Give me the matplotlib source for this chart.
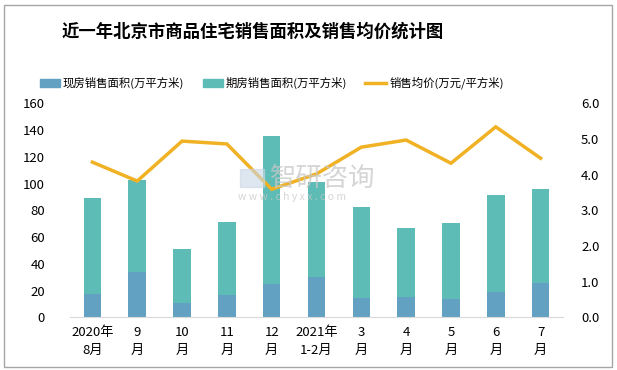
import matplotlib
matplotlib.use("Agg")
import matplotlib.pyplot as plt
from matplotlib.patches import Rectangle
import numpy as np

plt.rcParams['font.family'] = ['Noto Sans CJK SC', 'DejaVu Sans']

categories = ["2020年\n8月", "9\n月", "10\n月", "11\n月", "12\n月", "2021年\n1-2月",
              "3\n月", "4\n月", "5\n月", "6\n月", "7\n月"]
existing = [17.2, 33.9, 10.5, 16.4, 24.9, 30.1, 14.4, 15.2, 13.7, 19.0, 25.7]
total = [89.5, 102.7, 50.8, 71.0, 135.5, 101.2, 82.5, 66.8, 70.5, 91.4, 95.9]
future = [t - e for t, e in zip(total, existing)]
price = [4.35, 3.82, 4.94, 4.86, 3.59, 4.02, 4.77, 4.97, 4.32, 5.34, 4.46]

c_exist = "#62A1C2"
c_future = "#5DBCB5"
c_line = "#F0B224"

fig = plt.figure(figsize=(6.17, 3.70), dpi=100)
fig.patches.append(Rectangle((0.007, 0.008), 0.985, 0.978, transform=fig.transFigure,
                             fill=False, edgecolor="#A6A6A6", linewidth=1.0))

ax = fig.add_axes([70/617, 1-317.3/370, (563-70)/617, (317.3-103.3)/370])
x = np.arange(len(categories))
w = 0.39
ax.bar(x, existing, width=w, color=c_exist, edgecolor=c_exist, linewidth=0, zorder=2)
ax.bar(x, future, width=w, bottom=existing, color=c_future, linewidth=0, zorder=2)
ax.set_xlim(-0.5, len(categories)-0.5)
ax.set_ylim(0, 160)
ax.set_yticks(np.arange(0, 161, 20))
ax.set_xticks(x)
ax.set_xticklabels(categories, fontsize=9.5, linespacing=1.5)
for s in ['top', 'right', 'left']:
    ax.spines[s].set_visible(False)
ax.spines['bottom'].set_color("#D9D9D9")
ax.tick_params(axis='both', length=0, labelsize=9.5, colors='black')
ax.tick_params(axis='y', pad=18)
ax.tick_params(axis='x', pad=6)

ax2 = ax.twinx()
ax2.plot(x, price, color=c_line, linewidth=2.5, zorder=3, solid_joinstyle='miter')
ax2.set_ylim(0, 6.0)
ax2.set_yticks(np.arange(0, 6.01, 1.0))
ax2.set_yticklabels([f"{v:.1f}" for v in np.arange(0, 6.01, 1.0)])
for s in ['top', 'right', 'left', 'bottom']:
    ax2.spines[s].set_visible(False)
ax2.tick_params(axis='y', length=0, labelsize=9.5, pad=13)

# watermark
fig.text(270/617, 1-178/370, "智研咨询", fontsize=19, color="#C8C8C8", alpha=0.75,
         ha='left', va='center', zorder=5)
fig.text(238/617, 1-197/370, "w w w . c h y x x . c o m", fontsize=7.5, color="#C8C8C8",
         alpha=0.75, ha='left', va='center', zorder=5)
fig.patches.append(Rectangle((240/617, 1-187/370), 24/617, 18/370, transform=fig.transFigure,
                             color="#C9D6E6", alpha=0.6, zorder=5))

fig.text(253/617, 1-32/370, "近一年北京市商品住宅销售面积及销售均价统计图", fontsize=12.5,
         fontweight='bold', ha='center', va='center')

# legend
ly = 1-83/370
fig.patches.append(Rectangle((40/617, ly-3.5/370), 20/617, 7/370, transform=fig.transFigure,
                             color=c_exist))
fig.text(63/617, ly, "现房销售面积(万平方米)", fontsize=8.2, va='center', ha='left')
fig.patches.append(Rectangle((203/617, ly-3.5/370), 20/617, 7/370, transform=fig.transFigure,
                             color=c_future))
fig.text(226/617, ly, "期房销售面积(万平方米)", fontsize=8.2, va='center', ha='left')
fig.lines.append(plt.Line2D([365/617, 386/617], [ly, ly], transform=fig.transFigure,
                            color=c_line, linewidth=2.5))
fig.text(390/617, ly, "销售均价(万元/平方米)", fontsize=8.2, va='center', ha='left')

fig.savefig("out.png", dpi=100)
